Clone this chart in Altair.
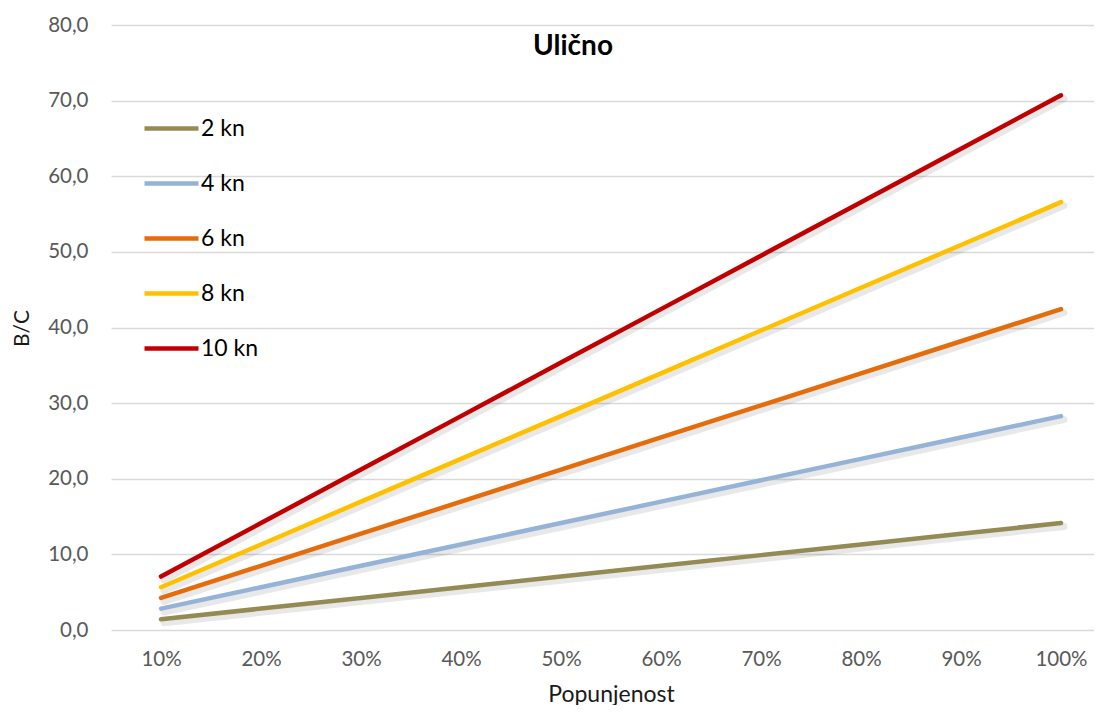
import altair as alt
import pandas as pd

title_text = "Ulično"
x_title = "Popunjenost"
y_title = "B/C"

occupancy = [10, 20, 30, 40, 50, 60, 70, 80, 90, 100]
series_names = ["2 kn", "4 kn", "6 kn", "8 kn", "10 kn"]
series_colors = ["#948A54", "#95B3D7", "#E46C0A", "#FFC000", "#C00000"]

bc_2kn = [1.41, 2.83, 4.24, 5.66, 7.07, 8.49, 9.90, 11.31, 12.73, 14.14]
bc_4kn = [2.83, 5.66, 8.49, 11.31, 14.14, 16.97, 19.80, 22.63, 25.46, 28.28]
bc_6kn = [4.24, 8.49, 12.73, 16.97, 21.21, 25.46, 29.70, 33.94, 38.18, 42.43]
bc_8kn = [5.66, 11.31, 16.97, 22.63, 28.28, 33.94, 39.60, 45.25, 50.91, 56.57]
bc_10kn = [7.07, 14.14, 21.21, 28.28, 35.36, 42.43, 49.50, 56.57, 63.64, 70.71]

y_ticks = [0, 10, 20, 30, 40, 50, 60, 70, 80]

rows = []
for name, vals in zip(series_names, [bc_2kn, bc_4kn, bc_6kn, bc_8kn, bc_10kn]):
    for xv, yv in zip(occupancy, vals):
        rows.append({"pop": xv, "bc": yv, "serija": name})
df = pd.DataFrame(rows)

FONT = "Lato"
W, H = 983, 605

x_scale = alt.Scale(domain=[5, 5 + W / 10.0], nice=False, zero=False)
y_scale = alt.Scale(domain=[0, 80], nice=False)

x_axis = alt.Axis(
    title=x_title,
    values=occupancy,
    labelExpr="datum.value + '%'",
    grid=False,
    domain=False,
    ticks=False,
    labelPadding=19,
    labelFont=FONT,
    labelFontSize=20.5,
    labelColor="#595959",
    titleFont=FONT,
    titleFontSize=23,
    titleFontWeight="normal",
    titleColor="#1a1a1a",
    titleX=500,
    titleY=71,
    titleAlign="center",
    titleBaseline="alphabetic",
)

y_axis = alt.Axis(
    title=y_title,
    values=y_ticks,
    labelExpr="replace(format(datum.value, '.1f'), '.', ',')",
    grid=True,
    gridColor="#D9D9D9",
    gridWidth=1.3,
    domain=False,
    ticks=False,
    labelPadding=23,
    labelFont=FONT,
    labelFontSize=20.5,
    labelColor="#595959",
    titleFont=FONT,
    titleFontSize=21,
    titleFontWeight="normal",
    titleColor="#1a1a1a",
    titleX=-89,
    titleY=303,
    titleAngle=270,
    titleAlign="center",
    titleBaseline="middle",
)

base = alt.Chart(df)

shadow = base.transform_calculate(
    px="datum.pop + 0.3", py="datum.bc - 0.45"
).mark_line(color="#000000", opacity=0.09, strokeWidth=7, strokeCap="round").encode(
    x=alt.X("px:Q", scale=x_scale, axis=x_axis, title=x_title),
    y=alt.Y("py:Q", scale=y_scale, axis=y_axis, title=y_title),
    detail="serija:N",
)

lines = base.mark_line(strokeWidth=4.5, strokeCap="round", strokeJoin="round").encode(
    x=alt.X("pop:Q", scale=x_scale, axis=x_axis, title=x_title),
    y=alt.Y("bc:Q", scale=y_scale, axis=y_axis, title=y_title),
    color=alt.Color(
        "serija:N",
        scale=alt.Scale(domain=series_names, range=series_colors),
        sort=series_names,
        legend=alt.Legend(
            title=None,
            orient="none",
            legendX=31,
            legendY=76,
            symbolType="stroke",
            symbolSize=2916,
            symbolStrokeWidth=4.5,
            clipHeight=55,
            rowPadding=0,
            labelOffset=0,
            labelFont=FONT,
            labelFontSize=23,
            labelColor="#000000",
            padding=0,
        ),
    ),
)

title_df = pd.DataFrame({"t": [title_text]})
title_mark = alt.Chart(title_df).mark_text(
    font=FONT, fontSize=28, fontWeight="bold", color="#000000", align="center", baseline="middle"
).encode(x=alt.value(462), y=alt.value(22), text="t:N")

chart = alt.layer(shadow, lines, title_mark).properties(
    width=W,
    height=H,
    background="white",
    autosize=alt.AutoSizeParams(type="none"),
    padding={"left": 103, "top": 17, "right": 0, "bottom": 75},
).configure_view(stroke=None)

chart.save("out.html", embed_options={"renderer": "svg", "actions": False})
